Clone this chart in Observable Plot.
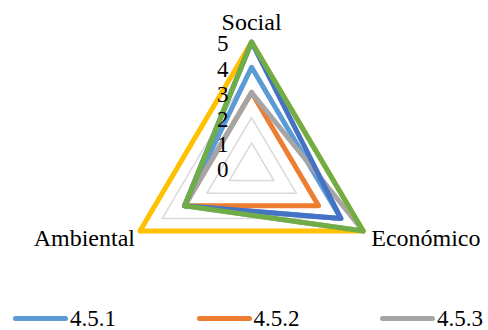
<!DOCTYPE html>
<html>
<head>
<meta charset="utf-8">
<script src="https://cdn.jsdelivr.net/npm/d3@7"></script>
<script src="https://cdn.jsdelivr.net/npm/@observablehq/plot@0.6"></script>
<style>
  body { margin: 0; background: #fff; font-family: "Liberation Serif", "Times New Roman", serif; }
  #chart svg { display: block; }
  #legend { width: 488px; height: 35px; box-sizing: border-box; padding-top: 12px; padding-left: 13px;
            overflow: hidden; white-space: nowrap; display: flex; align-items: center; }
  .item { flex: 0 0 183.5px; display: flex; align-items: center; height: 23px; font-size: 23px; color: #000; }
  .sw { width: 55px; height: 5px; border-radius: 3px; margin-right: 2px; }
</style>
</head>
<body>
<div id="chart"></div>
<div id="legend"></div>
<script>
// ---- data ----
const categories = ["Social", "Económico", "Ambiental"];
const seriesNames = ["4.5.1", "4.5.2", "4.5.3", "4.5.4", "4.5.5", "4.5.6"];
const seriesColors = ["#5B9BD5", "#ED7D31", "#A5A5A5", "#FFC000", "#4472C4", "#70AD47"];
const s451 = [4, 4, 3];
const s452 = [3, 3, 3];
const s453 = [3, 5, 3];
const s454 = [5, 5, 5];
const s455 = [5, 4, 3];
const s456 = [5, 5, 3];
const tickValues = [0, 1, 2, 3, 4, 5];
const gridLevels = [1, 2, 3, 4, 5];
const legendShown = 3; // only the first three entries fit in the visible legend row

// ---- geometry helpers ----
const angle = i => Math.PI / 2 - i * 2 * Math.PI / categories.length;
const px = (v, i) => v * Math.cos(angle(i));
const py = (v, i) => v * Math.sin(angle(i));

const allSeries = [s451, s452, s453, s454, s455, s456];
const seriesData = [];
allSeries.forEach((vals, k) => {
  vals.forEach((v, i) => seriesData.push({series: seriesNames[k], cat: categories[i], value: v, x: px(v, i), y: py(v, i)}));
});
const gridData = [];
gridLevels.forEach(l => categories.forEach((c, i) => gridData.push({level: l, x: px(l, i), y: py(l, i)})));
const maxV = d3.max(tickValues);
const catData = categories.map((c, i) => ({cat: c, x: px(maxV, i), y: py(maxV, i), i}));

const chart = Plot.plot({
  width: 488,
  height: 295,
  margin: 0,
  style: {fontFamily: "'Liberation Serif', 'Times New Roman', serif", fontSize: "23px", color: "#000", background: "#fff"},
  x: {domain: [-9.74, 9.19], axis: null},
  y: {domain: [-5.06, 6.65], axis: null},
  color: {domain: seriesNames, range: seriesColors},
  marks: [
    Plot.line(gridData, {x: "x", y: "y", z: "level", stroke: "#d9d9d9", strokeWidth: 1.5, curve: "linear-closed"}),
    Plot.line(seriesData, {x: "x", y: "y", z: "series", stroke: "series", strokeWidth: 5, strokeLinejoin: "round", curve: "linear-closed"}),
    Plot.text(tickValues, {x: () => 0, y: d => d, text: d => String(d), dx: -23, dy: 2, textAnchor: "end", fontSize: 23, fill: "#000"}),
    Plot.text(catData.filter(d => d.i === 0), {x: "x", y: "y", text: "cat", dy: -19.5, textAnchor: "middle", fontSize: 24, fill: "#000"}),
    Plot.text(catData.filter(d => d.i === 1), {x: "x", y: "y", text: "cat", dx: 8, dy: 7.6, textAnchor: "start", fontSize: 24, fill: "#000"}),
    Plot.text(catData.filter(d => d.i === 2), {x: "x", y: "y", text: "cat", dx: -5, dy: 7.6, textAnchor: "end", fontSize: 24, fill: "#000"})
  ]
});
document.getElementById("chart").appendChild(chart);

const legend = document.getElementById("legend");
seriesNames.slice(0, legendShown).forEach((n, k) => {
  const it = document.createElement("div");
  it.className = "item";
  const sw = document.createElement("span");
  sw.className = "sw";
  sw.style.background = seriesColors[k];
  const tx = document.createElement("span");
  tx.textContent = n;
  it.appendChild(sw);
  it.appendChild(tx);
  legend.appendChild(it);
});
</script>
</body>
</html>
